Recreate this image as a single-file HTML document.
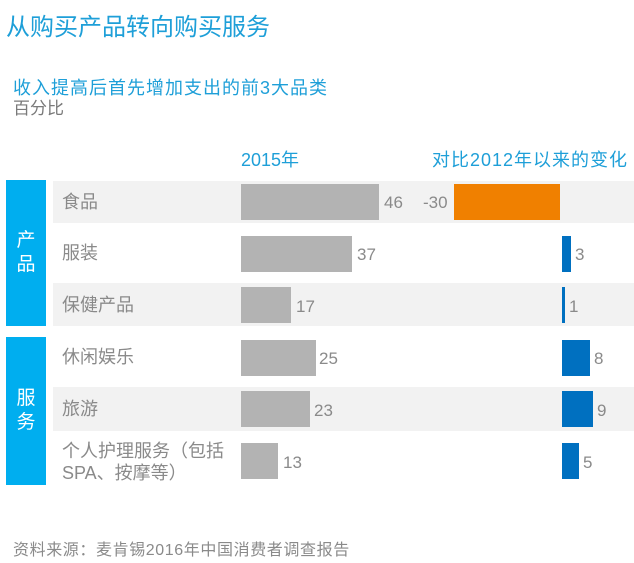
<!DOCTYPE html>
<html><head><meta charset="utf-8"><style>
body{margin:0;width:634px;height:563px;background:#fff;position:relative;overflow:hidden;font-family:"Liberation Sans","Noto Sans CJK SC",sans-serif;}
.a{position:absolute;white-space:nowrap;}
.row{position:absolute;left:53px;width:581px;}
.g{background:#f2f2f2;}
.lab{position:absolute;left:62px;font-size:18px;color:#8a8a8a;line-height:20px;}
.bar{position:absolute;background:#b3b3b3;}
.val{position:absolute;font-size:17px;color:#8a8a8a;}
.cb{position:absolute;background:#0070c0;}
.grp{position:absolute;left:6px;width:40px;background:#00aeef;color:#fff;font-size:19px;text-align:center;line-height:24px;}
</style></head><body>
<div class="a" style="left:6px;top:7px;font-size:24px;color:#1e9fd8;">从购买产品转向购买服务</div>
<div class="a" style="left:13px;top:77px;font-size:18px;color:#1e9fd8;letter-spacing:1px;line-height:22px;">收入提高后首先增加支出的前3大品类</div>
<div class="a" style="left:13px;top:98px;font-size:17px;color:#7a7a7a;line-height:22px;">百分比</div>
<div class="a" style="left:241px;top:146px;font-size:18px;color:#1e9fd8;">2015年</div>
<div class="a" style="left:432px;top:146px;font-size:18px;color:#1e9fd8;letter-spacing:1px;">对比2012年以来的变化</div>

<div class="row g" style="top:181px;height:42px;"></div>
<div class="row g" style="top:283px;height:43px;"></div>
<div class="row g" style="top:387px;height:44px;"></div>

<div class="grp" style="top:180px;height:146px;"><div style="margin-top:49px;">产<br>品</div></div>
<div class="grp" style="top:337px;height:148px;"><div style="margin-top:50px;">服<br>务</div></div>

<div class="lab" style="top:192px;">食品</div>
<div class="lab" style="top:243px;">服装</div>
<div class="lab" style="top:295px;">保健产品</div>
<div class="lab" style="top:347px;">休闲娱乐</div>
<div class="lab" style="top:399px;">旅游</div>
<div class="lab" style="top:440px;line-height:22px;">个人护理服务（包括<br>SPA、按摩等）</div>

<div class="bar" style="left:241px;top:184px;width:138px;height:36px;"></div><div class="val" style="left:384px;top:193px;">46</div>
<div class="bar" style="left:241px;top:236px;width:111px;height:36px;"></div><div class="val" style="left:357px;top:245px;">37</div>
<div class="bar" style="left:241px;top:287px;width:50px;height:36px;"></div><div class="val" style="left:296px;top:297px;">17</div>
<div class="bar" style="left:241px;top:340px;width:75px;height:36px;"></div><div class="val" style="left:319px;top:349px;">25</div>
<div class="bar" style="left:241px;top:391px;width:69px;height:36px;"></div><div class="val" style="left:314px;top:401px;">23</div>
<div class="bar" style="left:241px;top:443px;width:37px;height:36px;"></div><div class="val" style="left:283px;top:453px;">13</div>

<div class="val" style="left:423px;top:193px;">-30</div>
<div class="a" style="left:454px;top:184px;width:106px;height:36px;background:#f08000;"></div>
<div class="cb" style="left:562px;top:236px;width:9px;height:36px;"></div><div class="val" style="left:575px;top:245px;">3</div>
<div class="cb" style="left:562px;top:287px;width:3px;height:36px;"></div><div class="val" style="left:569px;top:297px;">1</div>
<div class="cb" style="left:562px;top:340px;width:28px;height:36px;"></div><div class="val" style="left:594px;top:349px;">8</div>
<div class="cb" style="left:562px;top:391px;width:31px;height:36px;"></div><div class="val" style="left:597px;top:401px;">9</div>
<div class="cb" style="left:562px;top:443px;width:17px;height:36px;"></div><div class="val" style="left:583px;top:453px;">5</div>

<div class="a" style="left:13px;top:536px;font-size:16px;color:#8a8a8a;letter-spacing:0.6px;">资料来源：麦肯锡2016年中国消费者调查报告</div>
</body></html>
